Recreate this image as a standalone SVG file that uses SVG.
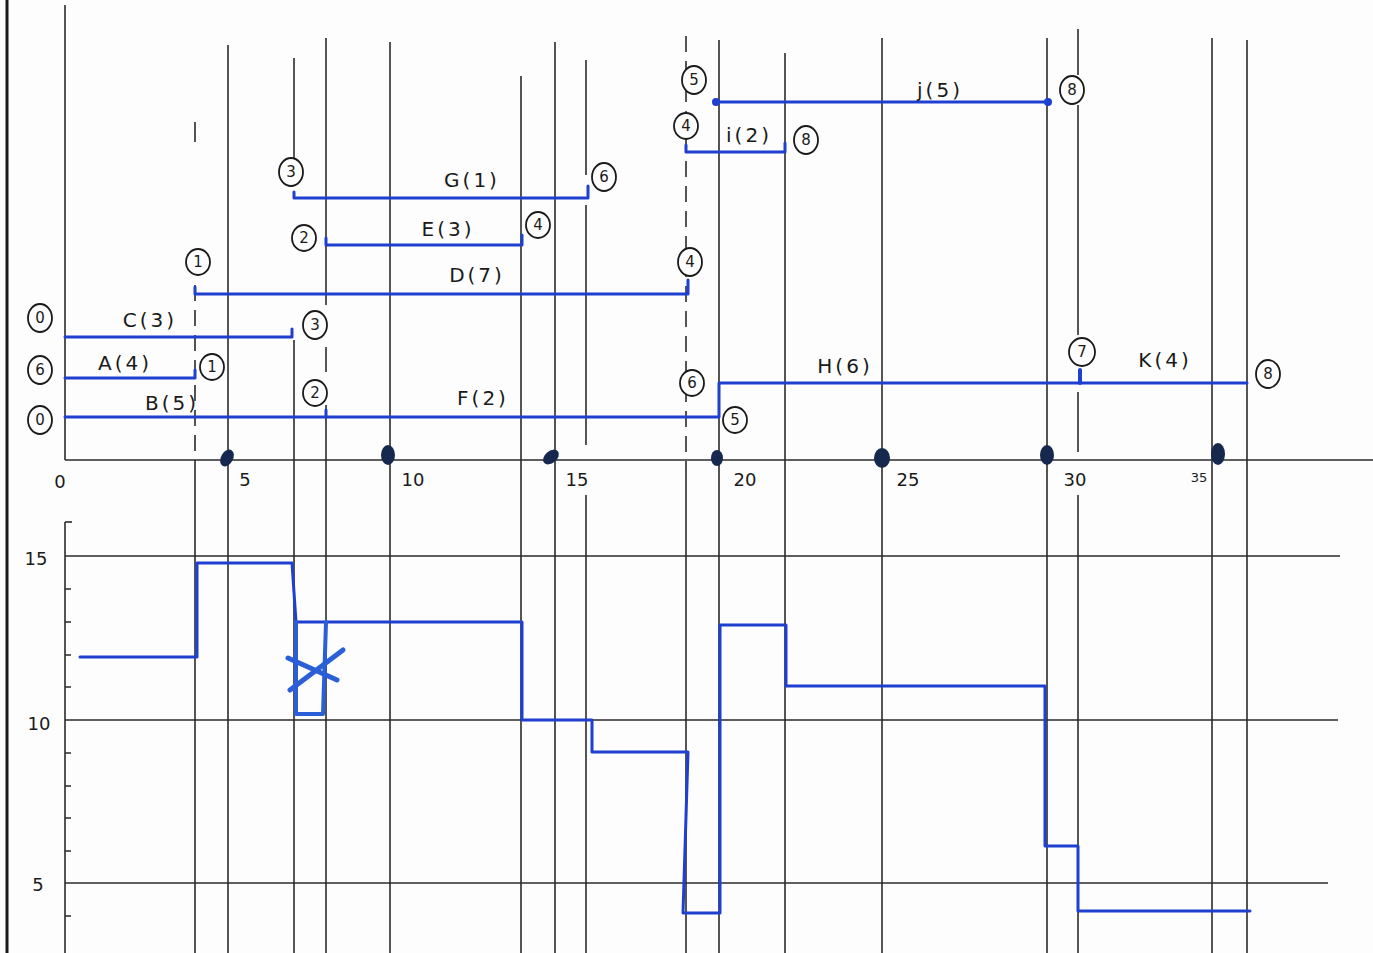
<svg xmlns="http://www.w3.org/2000/svg" width="1373" height="953" viewBox="0 0 1373 953">
<style>
.g{stroke:#2a2a2a;stroke-width:1.6;fill:none}
.gd{stroke:#2a2a2a;stroke-width:1.6;fill:none;stroke-dasharray:16 9}
.b{stroke:#1f3fd0;stroke-width:3;fill:none;stroke-linejoin:round;stroke-linecap:round}
.t{font-family:"DejaVu Sans",sans-serif;font-size:20px;fill:#1a1a1a;letter-spacing:3px;text-anchor:middle}
.n{font-family:"DejaVu Sans",sans-serif;font-size:15px;fill:#1a1a1a;text-anchor:middle}
.ax{font-family:"DejaVu Sans",sans-serif;font-size:18px;fill:#1a1a1a;text-anchor:middle}
.c{fill:#fdfdfd;stroke:#1a1a1a;stroke-width:1.8}
.dot{fill:#17284f}
</style>
<rect width="1373" height="953" fill="#fdfdfd"/>
<line x1="7" y1="0" x2="7" y2="953" stroke="#1a1a1a" stroke-width="3"/>

<g id="grid">
<line class="g" x1="65" y1="5" x2="65" y2="460"/>
<line class="g" x1="65" y1="460" x2="1373" y2="460"/>
<line class="g" x1="65" y1="522" x2="65" y2="953"/>
<line class="g" x1="65" y1="522" x2="72" y2="522"/>
<line class="g" x1="65" y1="556" x2="1340" y2="556"/>
<line class="g" x1="65" y1="720" x2="1338" y2="720"/>
<line class="g" x1="65" y1="883" x2="1328" y2="883"/>
<path class="g" d="M65 589h6M65 622h6M65 655h6M65 687h6M65 753h6M65 786h6M65 818h6M65 851h6M65 916h6"/>
<line class="g" x1="195" y1="122" x2="195" y2="142"/>
<line class="gd" x1="195" y1="285" x2="195" y2="460"/>
<line class="g" x1="195" y1="460" x2="195" y2="953"/>
<line class="g" x1="228" y1="45" x2="228" y2="953"/>
<line class="g" x1="294" y1="58" x2="294" y2="160"/>
<line class="g" x1="294" y1="340" x2="294" y2="953"/>
<line class="g" x1="326" y1="38" x2="326" y2="305"/>
<line class="g" x1="326" y1="347" x2="326" y2="372"/>
<line class="g" x1="326" y1="405" x2="326" y2="953"/>
<line class="g" x1="390" y1="42" x2="390" y2="953"/>
<line class="g" x1="521" y1="76" x2="521" y2="953"/>
<line class="g" x1="555" y1="42" x2="555" y2="953"/>
<line class="g" x1="586" y1="60" x2="586" y2="175"/>
<line class="g" x1="586" y1="205" x2="586" y2="445"/>
<line class="g" x1="586" y1="495" x2="586" y2="953"/>
<line class="gd" x1="686" y1="36" x2="686" y2="470"/>
<line class="g" x1="686" y1="470" x2="686" y2="953"/>
<line class="g" x1="719" y1="40" x2="719" y2="953"/>
<line class="g" x1="785" y1="53" x2="785" y2="953"/>
<line class="g" x1="882" y1="38" x2="882" y2="953"/>
<line class="g" x1="1047" y1="38" x2="1047" y2="953"/>
<line class="g" x1="1078" y1="29" x2="1078" y2="75"/>
<line class="g" x1="1078" y1="105" x2="1078" y2="335"/>
<line class="g" x1="1078" y1="392" x2="1078" y2="452"/>
<line class="g" x1="1078" y1="495" x2="1078" y2="953"/>
<line class="g" x1="1212" y1="38" x2="1212" y2="953"/>
<line class="g" x1="1247" y1="40" x2="1247" y2="953"/>
</g>

<g id="axis-labels">
<text class="ax" x="60" y="488">0</text>
<text class="ax" x="245" y="486">5</text>
<text class="ax" x="413" y="486">10</text>
<text class="ax" x="577" y="486">15</text>
<text class="ax" x="745" y="486">20</text>
<text class="ax" x="908" y="486">25</text>
<text class="ax" x="1075" y="486">30</text>
<text class="ax" x="1199" y="482" style="font-size:13px">35</text>
<text class="ax" x="36" y="565">15</text>
<text class="ax" x="39" y="730">10</text>
<text class="ax" x="38" y="891">5</text>
<ellipse class="dot" cx="227" cy="458" rx="6" ry="9" transform="rotate(30 227 458)"/>
<ellipse class="dot" cx="388" cy="455" rx="7" ry="10"/>
<ellipse class="dot" cx="551" cy="457" rx="6" ry="9" transform="rotate(50 551 457)"/>
<ellipse class="dot" cx="717" cy="458" rx="6" ry="8"/>
<ellipse class="dot" cx="882" cy="458" rx="8" ry="10"/>
<ellipse class="dot" cx="1047" cy="455" rx="7" ry="10"/>
<ellipse class="dot" cx="1218" cy="454" rx="7" ry="11"/>
</g>

<g id="connectors">
<path class="b" d="M65 417H719V383H1247"/>
<path class="b" d="M326 410V417"/>
<path class="b" d="M65 378H195V370"/>
<path class="b" d="M65 337H292V329"/>
<path class="b" d="M195 287V294H688V280"/>
<path class="b" d="M326 238V245H522V235"/>
<path class="b" d="M294 192V198H588V186"/>
<path class="b" d="M686 145V152H785V143"/>
<path class="b" d="M716 102H1048"/>
<circle cx="716" cy="102" r="4" fill="#1f3fd0"/>
<circle cx="1048" cy="102" r="4" fill="#1f3fd0"/>
<path class="b" d="M1080 370V383" style="stroke-width:4"/>
</g>

<g id="labels">
<text class="t" x="150" y="327">C(3)</text>
<text class="t" x="125" y="370">A(4)</text>
<text class="t" x="172" y="410">B(5)</text>
<text class="t" x="477" y="282">D(7)</text>
<text class="t" x="448" y="236">E(3)</text>
<text class="t" x="472" y="187">G(1)</text>
<text class="t" x="483" y="405">F(2)</text>
<text class="t" x="845" y="373">H(6)</text>
<text class="t" x="1165" y="367">K(4)</text>
<text class="t" x="749" y="142">i(2)</text>
<text class="t" x="940" y="97">j(5)</text>
</g>

<g id="node-0a"><ellipse class="c" cx="40" cy="318" rx="12" ry="14"/><text class="n" x="40" y="323">0</text></g>
<g id="node-6a"><ellipse class="c" cx="40" cy="370" rx="12" ry="14"/><text class="n" x="40" y="375">6</text></g>
<g id="node-0b"><ellipse class="c" cx="40" cy="420" rx="12" ry="14"/><text class="n" x="40" y="425">0</text></g>
<g id="node-1a"><ellipse class="c" cx="212" cy="367" rx="12" ry="13"/><text class="n" x="212" y="372">1</text></g>
<g id="node-3a"><ellipse class="c" cx="315" cy="325" rx="12" ry="14"/><text class="n" x="315" y="330">3</text></g>
<g id="node-2a"><ellipse class="c" cx="315" cy="393" rx="12" ry="13"/><text class="n" x="315" y="398">2</text></g>
<g id="node-1b"><ellipse class="c" cx="198" cy="262" rx="12" ry="13"/><text class="n" x="198" y="267">1</text></g>
<g id="node-2b"><ellipse class="c" cx="304" cy="238" rx="12" ry="13"/><text class="n" x="304" y="243">2</text></g>
<g id="node-3b"><ellipse class="c" cx="291" cy="172" rx="12" ry="14"/><text class="n" x="291" y="177">3</text></g>
<g id="node-4a"><ellipse class="c" cx="538" cy="225" rx="12" ry="13"/><text class="n" x="538" y="230">4</text></g>
<g id="node-6b"><ellipse class="c" cx="604" cy="177" rx="12" ry="14"/><text class="n" x="604" y="182">6</text></g>
<g id="node-4b"><ellipse class="c" cx="690" cy="262" rx="12" ry="14"/><text class="n" x="690" y="267">4</text></g>
<g id="node-5a"><ellipse class="c" cx="694" cy="80" rx="12" ry="14"/><text class="n" x="694" y="85">5</text></g>
<g id="node-4c"><ellipse class="c" cx="686" cy="126" rx="12" ry="13"/><text class="n" x="686" y="131">4</text></g>
<g id="node-8a"><ellipse class="c" cx="806" cy="140" rx="12" ry="14"/><text class="n" x="806" y="145">8</text></g>
<g id="node-8b"><ellipse class="c" cx="1072" cy="90" rx="12" ry="14"/><text class="n" x="1072" y="95">8</text></g>
<g id="node-6c"><ellipse class="c" cx="692" cy="383" rx="12" ry="13"/><text class="n" x="692" y="388">6</text></g>
<g id="node-5b"><ellipse class="c" cx="735" cy="420" rx="12" ry="13"/><text class="n" x="735" y="425">5</text></g>
<g id="node-7"><ellipse class="c" cx="1082" cy="352" rx="13" ry="14"/><text class="n" x="1082" y="357">7</text></g>
<g id="node-8c"><ellipse class="c" cx="1268" cy="374" rx="12" ry="14"/><text class="n" x="1268" y="379">8</text></g>

<g id="resource-profile">
<path class="b" d="M80 657H197V563H292L296 622H522V720H592V752H688L683 913H720V625H786V686H1045V846H1078V911H1250"/>
<path class="b" d="M296 622V714H323L326 622" style="stroke-width:4;stroke:#2a5fd8"/>
<path class="b" d="M290 690L343 650M288 658L337 680" style="stroke-width:5;stroke:#2a5fd8"/>
</g>
</svg>
